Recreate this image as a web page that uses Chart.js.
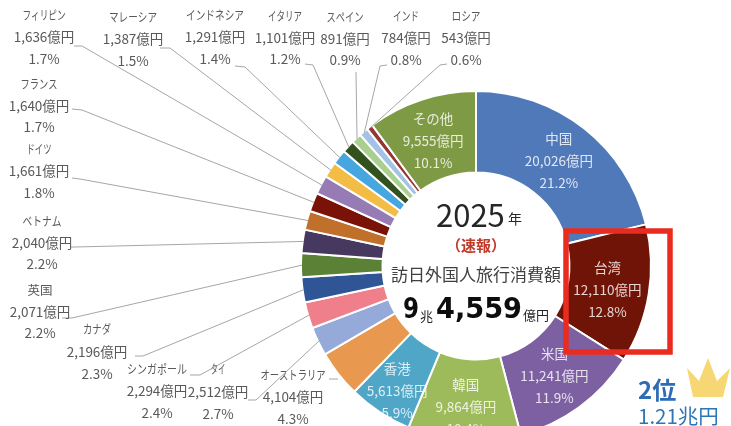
<!DOCTYPE html>
<html lang="ja"><head><meta charset="utf-8">
<style>html,body{margin:0;padding:0;background:#fff;overflow:hidden;width:731px;height:426px}
canvas{display:block;filter:blur(0.4px)}</style>
<script src="https://cdn.jsdelivr.net/npm/chart.js@4"></script></head>
<body><canvas id="c" width="731" height="532"></canvas>
<script>
const categories=["中国","台湾","米国","韓国","香港","オーストラリア","タイ","シンガポール","カナダ","英国","ベトナム","ドイツ","フランス","フィリピン","マレーシア","インドネシア","イタリア","スペイン","インド","ロシア","その他"];
const values=[20026,12110,11241,9864,5613,4104,2512,2294,2196,2071,2040,1661,1640,1636,1387,1291,1101,891,784,543,9555];
const shares=["21.2%","12.8%","11.9%","10.4%","5.9%","4.3%","2.7%","2.4%","2.3%","2.2%","2.2%","1.8%","1.7%","1.7%","1.5%","1.4%","1.2%","0.9%","0.8%","0.6%","10.1%"];
const colors=["#5079b9","#701408","#7d60a2","#9dbb5b","#4fa6c6","#e8994f","#95aad9","#ef7f8b","#2f5597","#5a8136","#46385f","#c0702a","#7a1208","#967bb4","#f3bd45","#45a6e0","#33501f","#a9d08e","#a4c2e6","#963634","#7f9a45"];
// in-slice labels: [category index, x nudge, y nudge]
const inside=[[0,0,0],[1,-1,2],[2,-1,2],[3,-1,7],[4,-5,13],[20,-1,2]];
// outside labels: [category index, text centre x, first line y, line gap, category text width, leader start x, y, elbow x, y]
const outside=[
[5,293,375,22,65,329,379,338,379],[6,218,369,22.5,15,248,400,256,400],[7,157,369,22,60,190,375,200,375],[8,97,329,22.5,28,135,356,143,356],
[9,40,290,21.5,25,62,318,72,318],[10,42,221,21.5,39,70,247,75,247],[11,39,149,22,25,72,178,80,179],[12,39,84,21.5,37,72,109,82,110],
[13,44,15,22,43,74,46,82,46],[14,133,17,22,48,160,48,170,48],[15,215,15,22,58,235,66,245,67],[16,285,16,21.5,34,305,64,313,65],
[17,345,17,21.5,37,356,72,356,74],[18,406,16,22,26,387,65,380,66],[19,466,16,22,29,447,64,440,65]];
const stubOnly=[5];
const fmt=v=>v.toLocaleString("en-US")+"億円";
const JP='"Noto Sans CJK JP"';
const annot={id:"annot",afterDatasetsDraw(ch){
 const g=ch.ctx,m=ch.getDatasetMeta(0).data;
 g.save();g.textAlign="center";g.textBaseline="middle";
 // in-slice labels
 inside.forEach(([i,dx,dy])=>{const p=m[i].getCenterPoint();
  g.fillStyle="rgba(255,255,255,.82)";g.font="13.5px "+JP;
  [categories[i],fmt(values[i]),shares[i]].forEach((t,k)=>g.fillText(t,p.x+dx,p.y+dy-22+k*22));});
 // leader lines and outside labels
 outside.forEach(([i,x,y,d,w,sx,sy,ex,ey])=>{
  const a=m[i],mid=(a.startAngle+a.endAngle)/2,r=a.outerRadius-1;
  g.strokeStyle="#a6a6a6";g.lineWidth=1;g.beginPath();g.moveTo(sx,sy);g.lineTo(ex,ey);
  if(!stubOnly.includes(i))g.lineTo(a.x+Math.cos(mid)*r,a.y+Math.sin(mid)*r);g.stroke();
  g.fillStyle="#595959";
  g.font="12.5px "+JP;g.fillText(categories[i],x,y,w);
  g.font="13.5px "+JP;g.fillText(fmt(values[i]),x,y+d);g.fillText(shares[i],x,y+2*d);});
 // centre text
 g.textAlign="left";g.fillStyle="#262626";g.font='31px "Noto Sans CJK JP"';g.fillText("2025",436,215);
 g.font="14px "+JP;g.fillText("年",508,219);
 g.textAlign="center";g.fillStyle="#c0392b";g.font="bold 15px "+JP;g.fillText("（速報）",476,245);
 g.fillStyle="#404040";g.font="17px "+JP;g.fillText("訪日外国人旅行消費額",476,275);
 g.textAlign="left";g.fillStyle="#0d0d0d";g.font='bold 29px "DejaVu Sans"';g.fillText("9",403,310,16);g.fillText("4,559",436,310,86);
 g.font="13px "+JP;g.fillStyle="#262626";g.fillText("兆",420,316);g.fillText("億円",523,315);
 // highlight box
 g.strokeStyle="#ea2b1f";g.lineWidth=5.5;g.strokeRect(566,231,104,121);
 // rank note
 g.fillStyle="#2e6cb5";g.font="bold 24px "+JP;g.fillText("2位",638,390);
 g.fillStyle="#2e75b6";g.font="20.5px "+JP;g.fillText("1.21兆円",638,416);
 // crown
 g.fillStyle="#f7d774";g.beginPath();
 [[693,397],[687,368],[699,381],[708,358],[717,381],[730,368],[723,397]].forEach(([x,y],k)=>k?g.lineTo(x,y):g.moveTo(x,y));
 g.closePath();g.fill();
 g.restore();
}};
new Chart(document.getElementById("c"),{type:"doughnut",plugins:[annot],
 data:{labels:categories,datasets:[{data:values,backgroundColor:colors,borderColor:"#fff",borderWidth:2}]},
 options:{responsive:false,animation:false,cutout:"53.4%",
  layout:{padding:{left:300,right:79,top:90,bottom:90}},
  plugins:{legend:{display:false},tooltip:{enabled:false}}}});
</script></body></html>
